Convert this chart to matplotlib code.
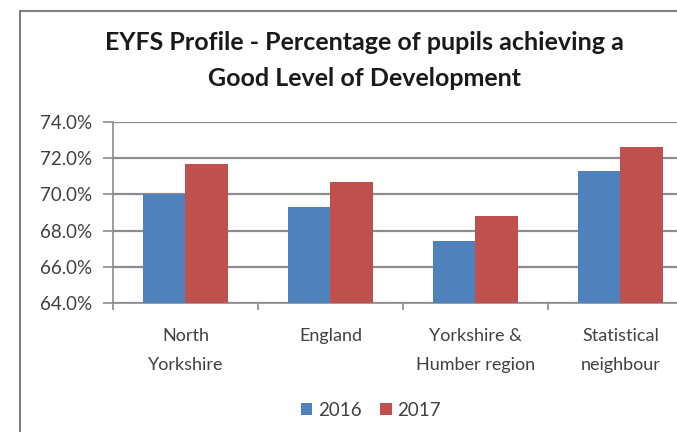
import matplotlib.pyplot as plt
import numpy as np
from matplotlib.patches import Rectangle

plt.rcParams['font.family'] = ['Lato', 'DejaVu Sans']

categories = ['North\nYorkshire', 'England', 'Yorkshire &\nHumber region', 'Statistical\nneighbour']
y2016 = [70.0, 69.3, 67.4, 71.3]
y2017 = [71.7, 70.7, 68.8, 72.6]
yticks = [64, 66, 68, 70, 72, 74]

blue = '#4F81BD'
red = '#C0504D'
grid_c = '#8C8C8C'
text_c = '#404040'

fig = plt.figure(figsize=(6.77, 4.32), dpi=100)
W, H = 677, 432
# chart border
fig.patches.append(Rectangle((20 / W, -0.1), 1.2, 1 - 11 / H + 0.1, transform=fig.transFigure,
                             fill=False, edgecolor='#7F7F7F', linewidth=1.5))

ax = fig.add_axes([113 / W, 1 - 303 / H, 1 - 113 / W, (303 - 122) / H])
x = np.arange(len(categories))
w = 0.29
ax.bar(x - w / 2, y2016, w, color=blue, label='2016', zorder=3)
ax.bar(x + w / 2, y2017, w, color=red, label='2017', zorder=3)

ax.set_ylim(64, 74)
ax.set_xlim(-0.5, 3.39)
ax.set_yticks(yticks)
ax.set_yticklabels(['%.1f%%' % v for v in yticks], color=text_c, fontsize=13.5)
ax.yaxis.grid(True, color=grid_c, linewidth=1.6, zorder=0)
ax.tick_params(axis='y', length=7, color=grid_c, width=1.2, pad=8)

ax.set_xticks(x)
ax.set_xticklabels(categories, color=text_c, fontsize=13, linespacing=2.0)
ax.tick_params(axis='x', length=0, pad=18)
ax.set_xticks([-0.5, 0.5, 1.5, 2.5], minor=True)
ax.tick_params(axis='x', which='minor', length=5, color=grid_c, width=1.2)

for s in ['top', 'right']:
    ax.spines[s].set_visible(False)
for s in ['left', 'bottom']:
    ax.spines[s].set_color(grid_c)
    ax.spines[s].set_linewidth(1.2)

fig.text(364 / W, 1 - 43 / H, 'EYFS Profile - Percentage of pupils achieving a',
         ha='center', va='center', fontsize=18, fontweight='bold', color='#1a1a1a')
fig.text(364 / W, 1 - 78 / H, 'Good Level of Development',
         ha='center', va='center', fontsize=18, fontweight='bold', color='#1a1a1a')

fig.legend(loc='center', bbox_to_anchor=(371 / W, 1 - 410 / H), ncol=2, frameon=False,
           fontsize=13.5, handlelength=0.6, handleheight=0.6, handletextpad=0.3,
           columnspacing=1.0, labelcolor=text_c)

fig.savefig('out.png', dpi=100)
